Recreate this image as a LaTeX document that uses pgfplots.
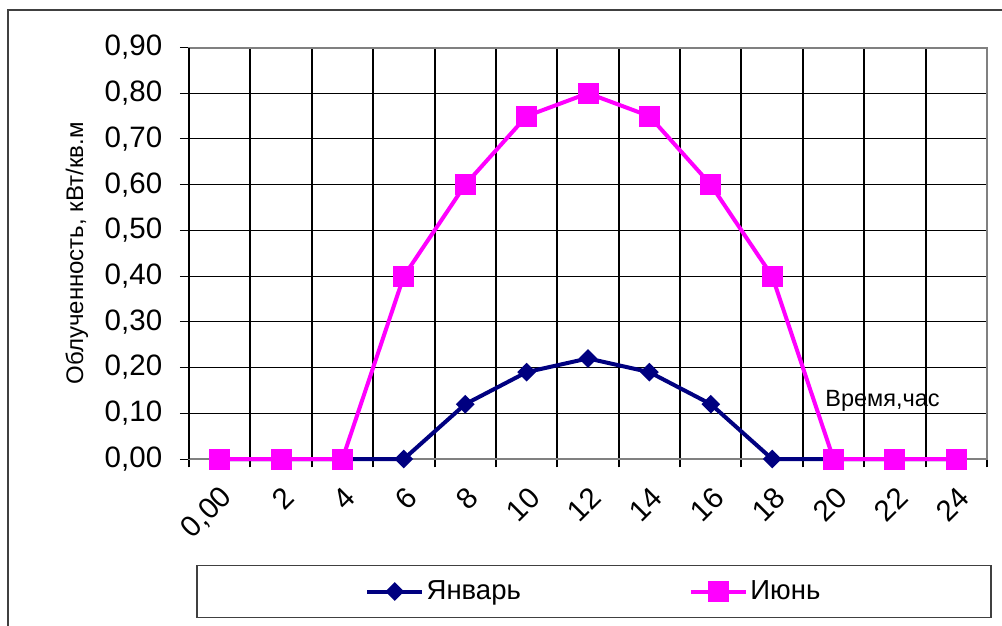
\documentclass[border=0pt]{standalone}
\usepackage{fontspec}
\setmainfont{Liberation Sans}
\usepackage{pgfplots}
\usepackage{pgfplotstable}
\pgfplotsset{compat=1.18}

\definecolor{janline}{HTML}{000080}
\definecolor{junline}{HTML}{FF00FF}
\definecolor{plotframe}{HTML}{808080}
\definecolor{outerframe}{HTML}{404040}

\newcommand{\ticksize}{\fontsize{11.8}{14}\selectfont}

% Solar irradiance over the day (index 0..12 = 0, 2, ..., 24 h)
\pgfplotstableread{
idx jan  jun
0   0    0
1   0    0
2   0    0
3   0    0.40
4   0.12 0.60
5   0.19 0.75
6   0.22 0.80
7   0.19 0.75
8   0.12 0.60
9   0    0.40
10  0    0
11  0    0
12  0    0
}\irradiance

\begin{document}
\begin{tikzpicture}
\useasboundingbox (-75.6pt,-66.4pt) rectangle (325.2pt,183.6pt);
\clip (-75.6pt,-66.4pt) rectangle (325.2pt,183.6pt);
% chart area frame
\draw[outerframe, line width=0.5pt] (-72.4pt,-90pt) -- (-72.4pt,179.6pt) -- (340pt,179.6pt);
\begin{axis}[
  at={(0pt,0pt)}, anchor=south west,
  scale only axis, width=319.2pt, height=164.6pt,
  clip=false,
  xmin=-0.5, xmax=12.5, ymin=0, ymax=0.9,
  axis line style={plotframe, line width=0.8pt},
  tick align=outside, xtick pos=bottom, ytick pos=left,
  xtick={0,...,12},
  xticklabels={{0,00},2,4,6,8,10,12,14,16,18,20,22,24},
  major x tick style={draw=none},
  minor xtick={-0.5,0.5,...,12.5},
  minor tick length=3.3pt,
  minor x tick style={black, line width=0.8pt},
  xminorgrids,
  minor x grid style={black, line width=0.8pt},
  ytick={0,0.1,0.2,0.3,0.4,0.5,0.6,0.7,0.8,0.9},
  major tick length=3.6pt,
  major y tick style={black, line width=0.4pt},
  ymajorgrids,
  major y grid style={black, line width=0.4pt},
  yticklabel style={font=\ticksize, anchor=east, xshift=-3.6pt,
    /pgf/number format/fixed,
    /pgf/number format/fixed zerofill,
    /pgf/number format/precision=2,
    /pgf/number format/use comma,
    /pgf/number format/assume math mode=true},
  xticklabel style={font=\ticksize, rotate=45, anchor=east,
    xshift=-1.2pt, yshift=-9.2pt},
  ylabel={Облученность, кВт/кв.м},
  ylabel style={at={(axis description cs:-0.1407,0.5)}, anchor=center,
    font=\fontsize{9.6}{11}\selectfont},
  xlabel={Время,час},
  xlabel style={at={(axis description cs:0.869,0.127)}, anchor=base,
    font=\fontsize{9.4}{11}\selectfont},
  legend columns=2,
  legend cell align=left,
  legend style={at={(axis description cs:0.5075,-0.322)}, anchor=center,
    draw=outerframe, line width=0.6pt,
    inner xsep=67.2pt, inner ysep=3.8pt,
    nodes={inner xsep=1pt},
    font=\fontsize{11}{13}\selectfont,
    /tikz/column 2/.append style={column sep=66.2pt}},
  legend image code/.code={
    \draw[mark repeat=2, mark phase=2, #1]
      plot coordinates {(0pt,0pt) (11pt,0pt) (22pt,0pt)};},
]
\addplot[janline, line width=1.6pt, mark=square*, mark size=1.85pt,
  mark options={rotate=45, solid}] table[x=idx, y=jan] {\irradiance};
\addlegendentry{Январь}
\addplot[junline, line width=1.6pt, mark=square*, mark size=3.4pt,
  mark options={solid}] table[x=idx, y=jun] {\irradiance};
\addlegendentry{Июнь}
% axis edge on the left is black, the plot frame elsewhere grey
\draw[plotframe, line width=0.8pt] (rel axis cs:1,0) -- (rel axis cs:1,1);
\draw[black, line width=0.8pt] (rel axis cs:0,0) -- (rel axis cs:0,1);
\end{axis}
\end{tikzpicture}
\end{document}
